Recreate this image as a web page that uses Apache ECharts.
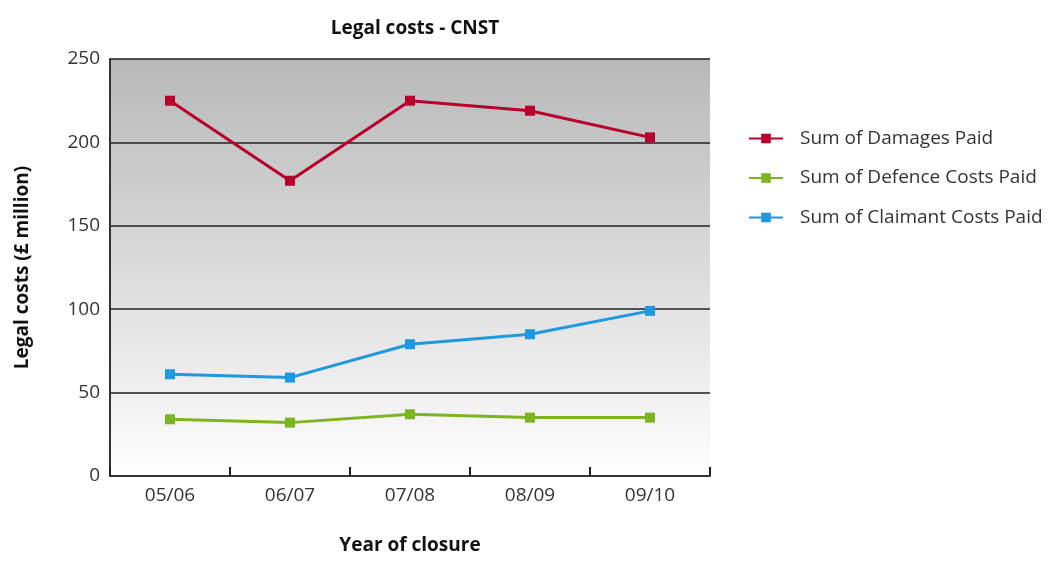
<!DOCTYPE html>
<html><head><meta charset="utf-8">
<script src="https://cdn.jsdelivr.net/npm/echarts@6/dist/echarts.min.js"></script>
<style>html,body{margin:0;padding:0;background:#fff}#c{width:1050px;height:567px}</style>
</head><body><div id="c"></div>
<script>
const categories = ['05/06','06/07','07/08','08/09','09/10'];
const damages = [225, 177, 225, 219, 203];
const defence = [34, 32, 37, 35, 35];
const claimant = [61, 59, 79, 85, 99];
const yTicks = {min: 0, max: 250, interval: 50};

const FONT = '"Open Sans", "Noto Sans", sans-serif';
const chart = echarts.init(document.getElementById('c'));
const mk = (name, data, color) => ({
  name, type: 'line', data,
  symbol: 'rect', symbolSize: 10,
  lineStyle: {color, width: 3},
  itemStyle: {color},
  emphasis: {disabled: true}
});
chart.setOption({
  animation: false,
  title: {
    text: 'Legal costs - CNST', left: 410, textAlign: 'center', top: 14,
    textStyle: {fontFamily: FONT, fontSize: 19, fontWeight: 'bold', color: '#111'}
  },
  legend: {
    orient: 'vertical', left: 743, top: 124,
    itemWidth: 34, itemHeight: 12, itemGap: 20.5,
    textStyle: {fontFamily: FONT, fontSize: 19, color: '#333', padding: [0,0,0,12]},
    data: ['Sum of Damages Paid', 'Sum of Defence Costs Paid', 'Sum of Claimant Costs Paid']
  },
  grid: {
    left: 110, right: 340, top: 59, bottom: 91, show: true, borderWidth: 0,
    outerBoundsMode: 'none', containLabel: false,
    backgroundColor: new echarts.graphic.LinearGradient(0, 0, 0, 1, [
      {offset: 0, color: '#b8b8b8'}, {offset: 1, color: '#fefefe'}
    ])
  },
  xAxis: {
    type: 'category', data: categories, boundaryGap: true,
    name: 'Year of closure', nameLocation: 'middle', nameGap: 60,
    nameTextStyle: {fontFamily: FONT, fontSize: 19, fontWeight: 'bold', color: '#111'},
    axisLine: {lineStyle: {color: '#333', width: 2}},
    axisTick: {show: true, inside: true, length: 9, interval: 0, lineStyle: {color: '#222', width: 2}},
    axisLabel: {fontFamily: FONT, fontSize: 19, color: '#333', margin: 10}
  },
  yAxis: {
    type: 'value', min: yTicks.min, max: yTicks.max, interval: yTicks.interval,
    name: 'Legal costs (£ million)', nameLocation: 'middle', nameGap: 78, nameRotate: 90,
    nameTextStyle: {fontFamily: FONT, fontSize: 19, fontWeight: 'bold', color: '#111'},
    axisLine: {show: true, lineStyle: {color: '#333', width: 2}},
    axisTick: {show: false},
    axisLabel: {fontFamily: FONT, fontSize: 19, color: '#333', margin: 10},
    splitLine: {lineStyle: {color: '#222', width: 1.5}}
  },
  series: [
    mk('Sum of Damages Paid', damages, '#b8002f'),
    mk('Sum of Defence Costs Paid', defence, '#7cb51f'),
    mk('Sum of Claimant Costs Paid', claimant, '#1e98e0')
  ]
});
</script></body></html>
